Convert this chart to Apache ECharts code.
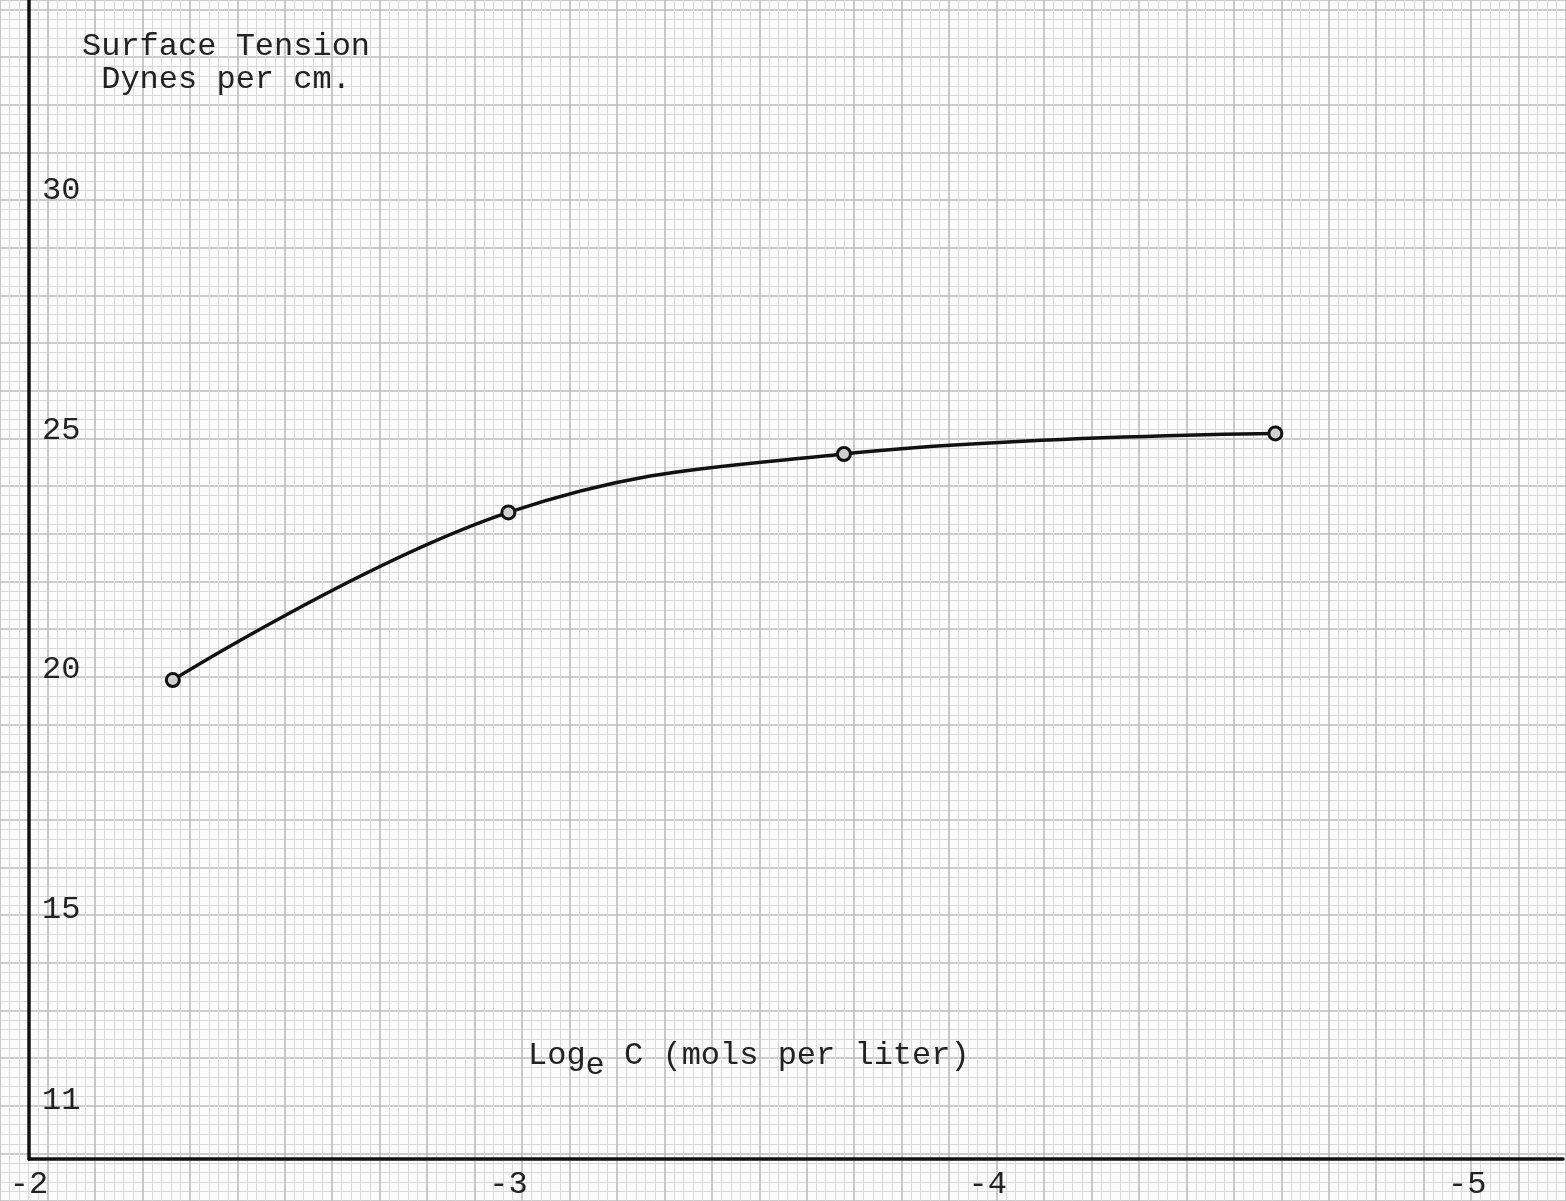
<!DOCTYPE html>
<html>
<head>
<meta charset="utf-8">
<script src="https://cdn.jsdelivr.net/npm/echarts@6/dist/echarts.min.js"></script>
<style>
  html, body { margin: 0; padding: 0; background: #fcfcfc; }
  #chart { width: 1566px; height: 1201px; }
</style>
</head>
<body>
<div id="chart"></div>
<script>
// Surface tension against log concentration
const logC = [-2.3, -3.0, -3.7, -4.6];
const tension = [20.0, 23.5, 24.72, 25.15];
const yTickLabels = [30, 25, 20, 15, 11];
const xTickLabels = [-2, -3, -4, -5];

const TYPE_FONT = '"Liberation Mono", "DejaVu Sans Mono", monospace';
const INK = '#222';

const points = logC.map((x, i) => [x, tension[i]]);

const chart = echarts.init(document.getElementById('chart'), null, { renderer: 'canvas' });

chart.setOption({
  backgroundColor: '#fcfcfc',
  animation: false,
  grid: [
    // plotting area, axes at x = -2 and y = 10
    { left: 29, right: 0, top: 0, bottom: 41 },
    // graph-paper ruling across the whole sheet
    { left: -19.03, right: 0, top: 0, bottom: -6.93 }
  ],
  xAxis: [
    {
      gridIndex: 0, type: 'value', inverse: true,
      min: -5.2, max: -2, interval: 0.1, z: 5,
      axisLine: { show: true, onZero: false, lineStyle: { color: '#111', width: 3.5 } },
      axisTick: { show: false },
      splitLine: { show: false },
      axisLabel: {
        show: true, margin: 10, fontSize: 32, fontFamily: TYPE_FONT, color: INK,
        formatter: v => {
          const hit = xTickLabels.find(t => Math.abs(t - v) < 1e-6);
          return hit === undefined ? '' : String(hit);
        }
      }
    },
    {
      gridIndex: 1, type: 'value', inverse: true,
      min: -5.2, max: -1.9, interval: 0.1, z: 0,
      axisLine: { show: false }, axisTick: { show: false }, axisLabel: { show: false },
      splitLine: { show: true, lineStyle: { color: '#bcbcbc', width: 1.6 } },
      minorTick: { show: false, splitNumber: 5 },
      minorSplitLine: { show: true, lineStyle: { color: '#d9d9d9', width: 1 } }
    }
  ],
  yAxis: [
    {
      gridIndex: 0, type: 'value',
      min: 10, max: 34.2, interval: 1, z: 5,
      axisLine: { show: true, onZero: false, lineStyle: { color: '#111', width: 3.5 } },
      axisTick: { show: false },
      splitLine: { show: false },
      axisLabel: {
        show: true, inside: true, margin: 13, fontSize: 32, fontFamily: TYPE_FONT,
        color: INK, verticalAlign: 'bottom', lineHeight: 21,
        formatter: v => (yTickLabels.indexOf(Math.round(v)) >= 0 && Math.abs(v - Math.round(v)) < 1e-6) ? String(Math.round(v)) : ''
      }
    },
    {
      gridIndex: 1, type: 'value',
      min: 9, max: 34.2, interval: 1, z: 0,
      axisLine: { show: false }, axisTick: { show: false }, axisLabel: { show: false },
      splitLine: { show: true, lineStyle: { color: '#bcbcbc', width: 1.6 } },
      minorTick: { show: false, splitNumber: 5 },
      minorSplitLine: { show: true, lineStyle: { color: '#d9d9d9', width: 1 } }
    }
  ],
  series: [
    {
      type: 'line',
      xAxisIndex: 0, yAxisIndex: 0,
      data: points,
      smooth: 0.4,
      z: 6,
      lineStyle: { color: '#111', width: 3.5 },
      symbol: 'circle',
      symbolSize: 13,
      itemStyle: { color: '#d0d0d0', borderColor: '#111', borderWidth: 3 }
    }
  ],
  graphic: [
    {
      type: 'text', left: 82, top: 30, z: 10,
      style: {
        text: 'Surface Tension\n Dynes per cm.',
        font: '32px ' + TYPE_FONT, fill: INK, lineHeight: 33
      }
    },
    {
      type: 'text', left: 528, top: 1040, z: 10,
      style: {
        text: '{a|Log}{s|e}{a| C (mols per liter)}',
        rich: {
          a: { font: '32px ' + TYPE_FONT, fill: INK, verticalAlign: 'top', lineHeight: 34 },
          s: { font: '32px ' + TYPE_FONT, fill: INK, verticalAlign: 'top', lineHeight: 34, padding: [10, 0, 0, 0] }
        }
      }
    }
  ]
});
</script>
</body>
</html>
